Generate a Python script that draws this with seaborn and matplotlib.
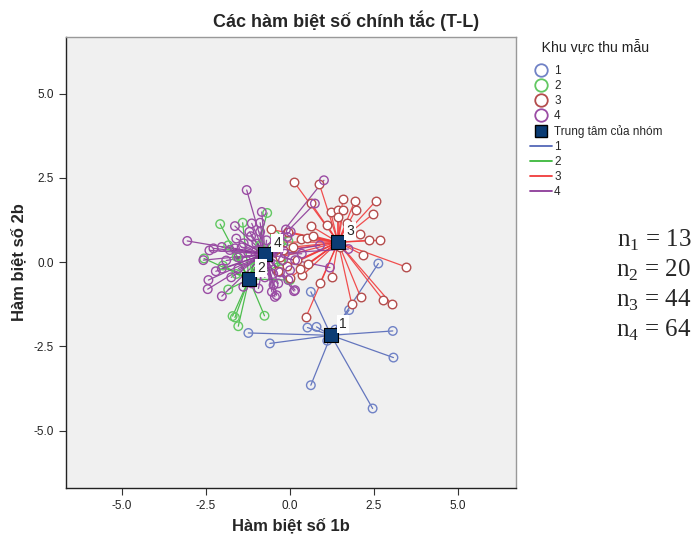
import numpy as np
import pandas as pd
import seaborn as sns
import matplotlib
matplotlib.use("Agg")
import matplotlib.pyplot as plt
from matplotlib.lines import Line2D

# Discriminant scores (function 1b, function 2b)
groups = ["1", "2", "3", "4"]
centroid_x = [1.22, -1.22, 1.43, -0.74]
centroid_y = [-2.17, -0.50, 0.59, 0.24]

g1_x = [2.63, 0.62, 1.76, 0.52, 0.79, 1.11, -0.60, 3.06, 3.08, 0.62, 2.46, -1.24, 1.35]
g1_y = [-0.04, -0.88, -1.42, -1.94, -1.92, -2.33, -2.41, -2.04, -2.83, -3.65, -4.34, -2.10, -2.00]

g2_x = [-2.08, -1.41, -0.68, -0.89, -2.56, -1.84, -1.71, -1.64, -1.54, -0.76,
        -0.05, -0.25, -1.84, -1.59, 0.00, -0.26, -2.00, -1.05, -1.60, -0.45]
g2_y = [1.13, 1.17, 1.46, 0.50, 0.11, -0.81, -1.60, -1.64, -1.90, -1.59,
        0.63, -0.06, 0.50, 0.16, -0.53, 0.05, -0.10, -0.15, -0.35, 0.80]

g3_x = [0.12, 0.87, 0.62, 1.57, 1.93, 2.56, 1.21, 1.44, 1.59, 1.96,
        1.42, 2.46, 0.63, 0.32, 0.52, 0.69, 2.08, 2.35, 2.68, 1.49,
        2.18, 3.45, 0.89, 2.10, 2.76, 3.03, 1.84, 0.37, 0.00, 0.48,
        -0.57, -0.30, -0.10, 0.10, -0.45, 0.30, -0.20, 0.20, 1.10, -0.05,
        1.70, 0.55, -0.35, 1.25]
g3_y = [2.38, 2.33, 1.76, 1.86, 1.82, 1.82, 1.49, 1.56, 1.54, 1.56,
        1.34, 1.42, 1.07, 0.70, 0.73, 0.78, 0.83, 0.65, 0.65, 0.44,
        0.21, -0.14, -0.63, -1.03, -1.11, -1.25, -1.25, -0.39, -0.46, -1.62,
        0.97, 0.15, -0.10, 0.45, 0.60, -0.20, 0.35, 0.05, 1.10, 0.90,
        1.15, -0.05, -0.25, -0.45]

g4_x = [-1.29, -0.84, -1.14, -0.89, -1.64, -1.21, -0.89, -3.06, -2.28, -2.03,
        -1.79, -1.64, -1.44, -2.58, -1.54, -2.03, -1.54, -2.43, -2.03, -1.39,
        -1.14, -0.40, -0.35, 0.00, 0.15, -0.05, 0.15, -0.12, -2.21, -2.45,
        -0.94, -0.54, 1.01, 0.74, 0.89, 1.19, 1.74, 0.12, -0.45, -0.49,
        -0.21, 0.02, -0.08, -1.16, -1.38, -1.00, -0.55, -0.35, -0.60, -1.30,
        -0.90, -0.30, -1.75, -0.70, -1.00, -0.20, -1.90, -0.50, -1.25, -0.15,
        -2.40, -0.75, 0.35, -1.60]
g4_y = [2.14, 1.49, 1.15, 1.17, 1.07, 0.90, 0.90, 0.63, 0.41, 0.45,
        0.36, 0.41, 0.44, 0.06, 0.14, -0.19, -0.19, -0.53, -1.01, -0.73,
        -0.63, -0.98, -0.63, -0.24, 0.06, -0.53, -0.83, 0.97, -0.27, -0.80,
        -0.78, -0.88, 2.43, 1.74, 0.50, -0.16, 0.39, -0.86, -1.03, -0.68,
        0.06, 0.90, 0.75, 0.77, 0.56, 0.35, 0.45, 0.30, 0.00, 0.05,
        -0.10, -0.30, -0.45, 0.65, 0.55, 0.55, 0.05, -0.35, 0.30, 0.25,
        0.35, -0.45, 0.25, 0.70]

n_labels = ["13", "20", "44", "64"]

circle_colors = {"1": "#7082C6", "2": "#62C862", "3": "#B44C4C", "4": "#9A4CA4"}
line_colors = {"1": "#5468B8", "2": "#3CB83C", "3": "#F03C3C", "4": "#8C3A98"}

frames = []
for g, xs, ys in zip(groups, [g1_x, g2_x, g3_x, g4_x], [g1_y, g2_y, g3_y, g4_y]):
    frames.append(pd.DataFrame({"f1": xs, "f2": ys, "group": g}))
scores = pd.concat(frames, ignore_index=True)
cent = pd.DataFrame({"f1": centroid_x, "f2": centroid_y, "group": groups})

sns.set_style("white")
plt.rcParams["font.family"] = ["Liberation Sans", "DejaVu Sans"]

fig = plt.figure(figsize=(6.92, 5.37), dpi=100)
ax = fig.add_axes([0.0954, 0.0912, 0.6503, 0.8399])
ax.set_facecolor("#F0F0F0")

# lines from each case to its group centroid
for i, g in enumerate(groups):
    sub = scores[scores.group == g]
    for x, y in zip(sub.f1, sub.f2):
        ax.plot([x, centroid_x[i]], [y, centroid_y[i]], color=line_colors[g],
                lw=0.9, alpha=0.9, zorder=1)

for g in groups:
    sub = scores[scores.group == g]
    sns.scatterplot(data=sub, x="f1", y="f2", ax=ax, s=38, marker="o",
                    facecolor="white" if g == "3" else "none",
                    edgecolor=circle_colors[g], linewidth=1.0, legend=False, zorder=2)

sns.scatterplot(data=cent, x="f1", y="f2", ax=ax, marker="s", s=115,
                color="#0B3C74", edgecolor="black", linewidth=0.8, legend=False, zorder=4)
for i, g in enumerate(groups):
    ax.annotate(g, (centroid_x[i], centroid_y[i]), xytext=(6, 5), textcoords="offset points",
                fontsize=10, zorder=5,
                bbox=dict(boxstyle="square,pad=0.15", fc="white", ec="none"))

ax.set_xlim(-6.67, 6.73)
ax.set_ylim(-6.7, 6.68)
ticks = [-5.0, -2.5, 0.0, 2.5, 5.0]
ax.set_xticks(ticks)
ax.set_yticks(ticks)
ax.set_xticklabels([f"{t:.1f}" for t in ticks])
ax.set_yticklabels([f"{t:.1f}" for t in ticks])
ax.tick_params(axis="both", direction="out", length=5, width=0.8, color="#333333",
               labelsize=8.5, labelcolor="#222222", bottom=True, left=True)
for side in ["left", "bottom"]:
    ax.spines[side].set_color("#222222")
    ax.spines[side].set_linewidth(1.0)
for side in ["top", "right"]:
    ax.spines[side].set_color("#999999")
    ax.spines[side].set_linewidth(1.0)

ax.set_xlabel("Hàm biệt số 1b", fontsize=12, fontweight="bold", labelpad=4)
ax.set_ylabel("Hàm biệt số 2b", fontsize=12, fontweight="bold", labelpad=5)
fig.text(0.5, 0.962, "Các hàm biệt số chính tắc (T-L)", ha="center", va="center",
         fontsize=13, fontweight="bold")

handles = []
for g in groups:
    handles.append(Line2D([], [], marker="o", linestyle="none", markersize=9,
                          markerfacecolor="none", markeredgecolor=circle_colors[g],
                          markeredgewidth=1.3, label=g))
handles.append(Line2D([], [], marker="s", linestyle="none", markersize=8.5,
                      markerfacecolor="#0B3C74", markeredgecolor="black",
                      label="Trung tâm của nhóm"))
for g in groups:
    handles.append(Line2D([], [], color=line_colors[g], lw=1.3, label=g))
leg = ax.legend(handles=handles, title="   Khu vực thu mẫu", loc="upper left",
                bbox_to_anchor=(1.015, 1.012), frameon=False, fontsize=8.5,
                title_fontsize=10.2, handlelength=1.9, handletextpad=0.15,
                labelspacing=0.25, borderaxespad=0.2)
leg._legend_box.align = "left"
leg._legend_box.sep = 8.5
leg.get_title().set_color("#222222")

plt.rcParams["mathtext.fontset"] = "custom"
plt.rcParams["mathtext.rm"] = "Liberation Serif"
for i, n in enumerate(n_labels):
    fig.text(0.999, 0.553 - i * 0.056, rf"n$_\mathrm{{{i + 1}}}$ = {n}",
             ha="right", va="center", fontsize=18, family="Liberation Serif")

fig.savefig("out.png", dpi=100)
